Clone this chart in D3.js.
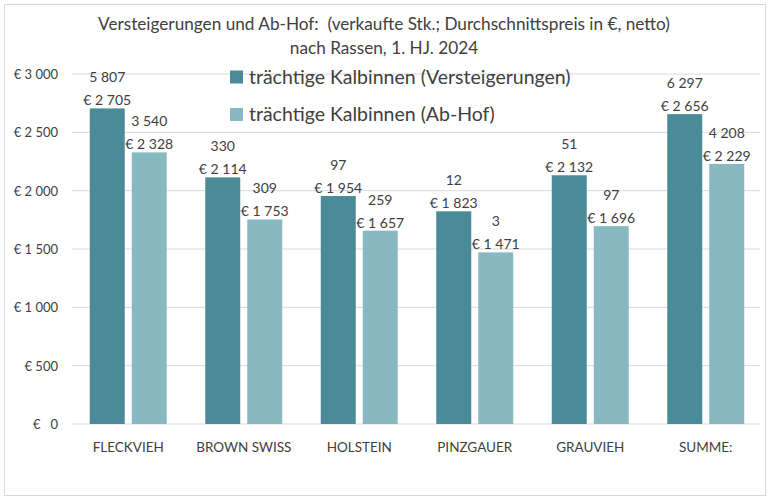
<!DOCTYPE html>
<html><head><meta charset="utf-8">
<script src="https://cdn.jsdelivr.net/npm/d3@7"></script>
<style>body{margin:0;background:#fff}svg{display:block}text{font-family:Lato,"Open Sans",sans-serif;fill:#404040;white-space:pre}</style>
</head><body>
<svg id="c" width="770" height="501"></svg>
<script>
const categories = ["FLECKVIEH","BROWN SWISS","HOLSTEIN","PINZGAUER","GRAUVIEH","SUMME:"];
const seriesNames = ["trächtige Kalbinnen (Versteigerungen)","trächtige Kalbinnen (Ab-Hof)"];
const priceVersteigerung = [2705,2114,1954,1823,2132,2656];
const priceAbHof = [2328,1753,1657,1471,1696,2229];
const countVersteigerung = [5807,330,97,12,51,6297];
const countAbHof = [3540,309,259,3,97,4208];
const yTicks = [0,500,1000,1500,2000,2500,3000];
const colors = ["#4b8b98","#88b9c3"];

const svg = d3.select("#c");
svg.append("rect").attr("x",4.5).attr("y",4.5).attr("width",761).attr("height",491)
  .attr("fill","#fff").attr("stroke","#d9d9d9");

const x = d3.scaleBand().domain(categories).range([70.5,763.5]);
const y = d3.scaleLinear().domain([0,3000]).range([424,74]);
const fmt = v => d3.format(",")(v).replace(/,/g," ");

// gridlines
svg.append("g").selectAll("line").data(yTicks).join("line")
  .attr("x1",72).attr("x2",760).attr("y1",d=>y(d)).attr("y2",d=>y(d))
  .attr("stroke","#d9d9d9").attr("stroke-width",1);

// y axis
const ya = svg.append("g").attr("transform","translate(58,0)")
  .call(d3.axisLeft(y).tickValues(yTicks).tickSize(0).tickPadding(0)
    .tickFormat(d => d===0 ? "€   0" : "€ " + fmt(d)));
ya.select(".domain").remove();
ya.selectAll("text").style("font-size","13px").attr("fill","#404040").attr("dy","0.35em");

// x axis
const xa = svg.append("g").attr("transform","translate(0,424)")
  .call(d3.axisBottom(x).tickSize(0).tickPadding(18));
xa.select(".domain").remove();
xa.selectAll("text").style("font-size","13.5px").attr("fill","#404040");

const bw = 35, gap = 7;
const series = [
  {price: priceVersteigerung, count: countVersteigerung, off: -(gap/2+bw)},
  {price: priceAbHof, count: countAbHof, off: gap/2}
];
series.forEach((s,si) => {
  const data = categories.map((c,i)=>({c, p:s.price[i], n:s.count[i]}));
  const g = svg.append("g");
  g.selectAll("rect").data(data).join("rect")
    .attr("x", d => x(d.c)+x.bandwidth()/2+s.off)
    .attr("y", d => y(d.p)).attr("width", bw).attr("height", d => y(0)-y(d.p))
    .attr("fill", colors[si]);
  g.selectAll("text.n").data(data).join("text").attr("class","n")
    .attr("x", d => x(d.c)+x.bandwidth()/2+s.off+bw/2)
    .attr("y", d => y(d.p)-31).attr("dy","0.35em").attr("text-anchor","middle")
    .style("font-size","14px").text(d => fmt(d.n));
  g.selectAll("text.p").data(data).join("text").attr("class","p")
    .attr("x", d => x(d.c)+x.bandwidth()/2+s.off+bw/2)
    .attr("y", d => y(d.p)-8).attr("dy","0.35em").attr("text-anchor","middle")
    .style("font-size","14px").text(d => "€ " + fmt(d.p));
});

// title
svg.append("text").attr("x",384).attr("y",24).attr("dy","0.35em").attr("text-anchor","middle")
  .style("font-size","17.2px").text("Versteigerungen und Ab-Hof:  (verkaufte Stk.; Durchschnittspreis in €, netto)");
svg.append("text").attr("x",384).attr("y",48).attr("dy","0.35em").attr("text-anchor","middle")
  .style("font-size","17.2px").text("nach Rassen, 1. HJ. 2024");

// legend
const lg = svg.append("g");
seriesNames.forEach((n,i) => {
  const yy = 77 + i*37.5;
  lg.append("rect").attr("x",230).attr("y",yy-6.5).attr("width",13).attr("height",13).attr("fill",colors[i]);
  lg.append("text").attr("x",249).attr("y",yy).attr("dy","0.35em").style("font-size","19.5px").text(n);
});
</script>
</body></html>
